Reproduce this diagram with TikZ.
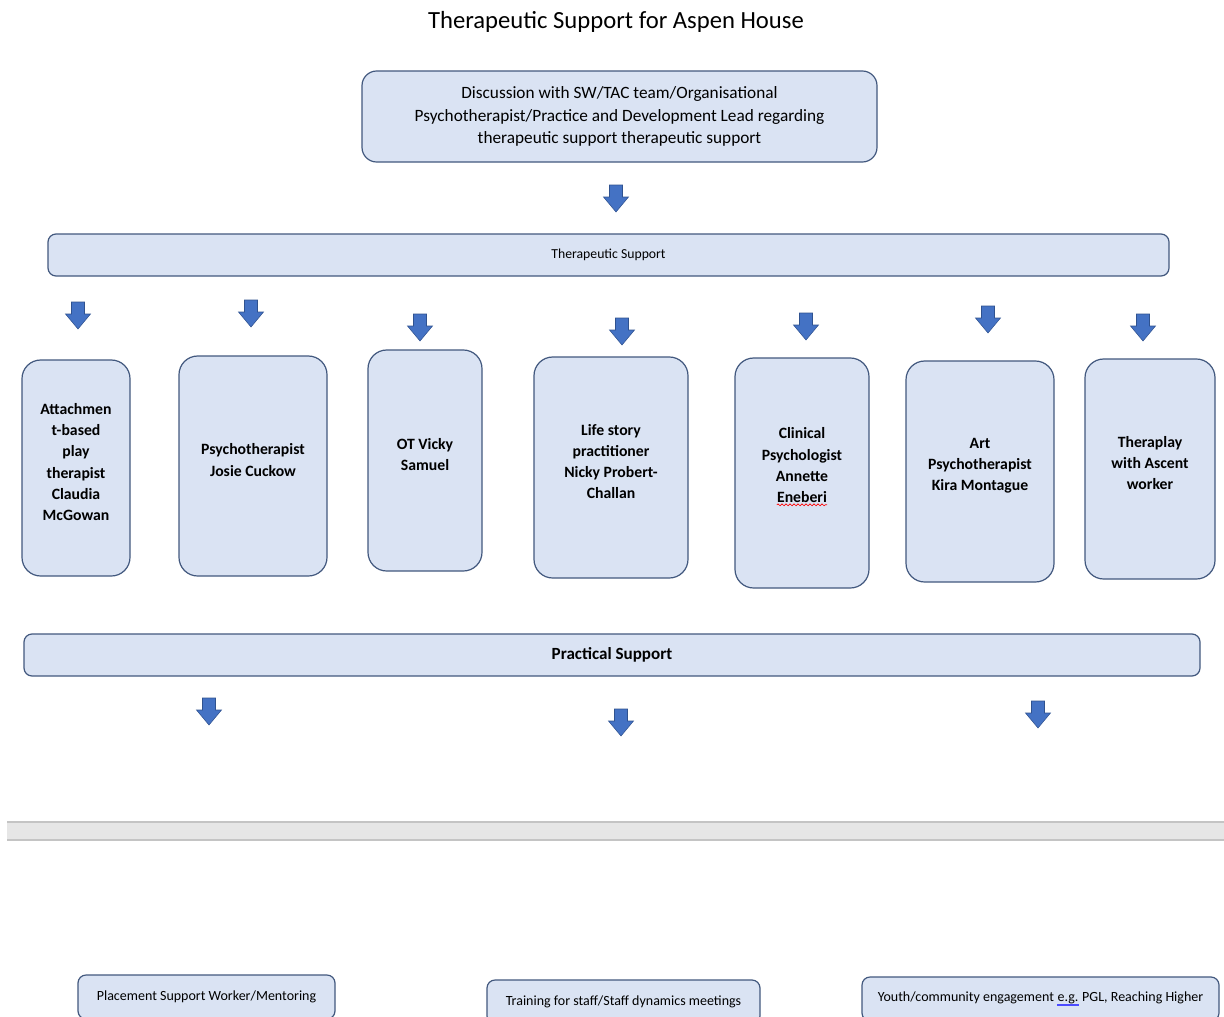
\documentclass[tikz,border=0pt]{standalone}
\usepackage{fontspec}
\setmainfont{Carlito}
\usetikzlibrary{decorations.pathmorphing}

\definecolor{boxfill}{HTML}{DAE3F3}
\definecolor{boxline}{HTML}{42587E}
\definecolor{arrowfill}{HTML}{4472C4}
\definecolor{arrowline}{HTML}{2F528F}
\definecolor{bandfill}{HTML}{E6E6E6}
\definecolor{bandline}{HTML}{C4C4C4}

% block arrow pointing down, top centre at #1
\newcommand{\downarrowat}[1]{%
  \filldraw[fill=arrowfill,draw=arrowline,line width=0.4pt] (#1) ++(-6.5,0) -- ++(13,0) -- ++(0,12) -- ++(6,0)
    -- ++(-12.5,15) -- ++(-12.5,-15) -- ++(6,0) -- cycle;}

% spell-check marks
\newcommand{\redsquig}[1]{\tikz[baseline=(w.base)]{\node[inner sep=0pt,draw=none,fill=none,minimum width=0pt,minimum height=0pt,anchor=base,font={}] (w) {#1};
  \draw[red,line width=0.5pt,sharp corners,decorate,decoration={snake,amplitude=0.7pt,segment length=3pt}] ([yshift=-2pt]w.base west) -- ([yshift=-2pt]w.base east);}}
\newcommand{\blueul}[1]{\tikz[baseline=(w.base)]{\node[inner sep=0pt,draw=none,fill=none,minimum width=0pt,minimum height=0pt,anchor=base,font={}] (w) {#1};
  \draw[blue!70,line width=0.4pt,sharp corners] ([yshift=-1.5pt]w.base west) -- ([yshift=-1.5pt]w.base east)
    ([yshift=-2.8pt]w.base west) -- ([yshift=-2.8pt]w.base east);}}

\begin{document}
\begin{tikzpicture}[x=0.75pt,y=-0.75pt,
  sz/.style 2 args={minimum width=#1*0.75pt,minimum height=#2*0.75pt},
  bar/.style={draw=boxline,fill=boxfill,line width=0.9pt,rounded corners=6pt,align=center,inner sep=2pt},
  box/.style={bar,rounded corners=14pt},
  boxtext/.style={align=center,inner sep=0pt,yshift=4.5pt,font=\bfseries\fontsize{11.8}{15.8}\selectfont}]
\useasboundingbox (0,0) rectangle (1224,1017);

% Title
\node[font=\fontsize{18.5}{22}\selectfont] (title) at (616,22) {Therapeutic Support for Aspen House};

% Discussion
\node[bar,sz={515}{91},rounded corners=11pt,font=\fontsize{12.95}{16.9}\selectfont] (disc) at (619.5,116.5)
  {Discussion with SW/TAC team/Organisational\\Psychotherapist/Practice and Development Lead regarding\\therapeutic support therapeutic support};
\coordinate (a0) at (616,185);
\downarrowat{a0}

% Therapeutic support
\node[bar,sz={1121}{42},font=\fontsize{10.3}{12}\selectfont] (ther) at (608.5,255) {Therapeutic Support};

\coordinate (a1) at (78,302);
\coordinate (a2) at (251,300);
\coordinate (a3) at (420,314);
\coordinate (a4) at (622,318);
\coordinate (a5) at (806,313);
\coordinate (a6) at (988,306);
\coordinate (a7) at (1143,314);
\foreach \a in {a1,a2,a3,a4,a5,a6,a7} {\downarrowat{\a}}

% Therapists
\node[box,sz={108}{216},label={[boxtext]center:{Attachmen\\t-based\\play\\therapist\\Claudia\\McGowan}}] (attach) at (76,468) {};
\node[box,sz={148}{220},label={[boxtext]center:{Psychotherapist\\Josie Cuckow}}] (psycho) at (253,466) {};
\node[box,sz={114}{221},label={[boxtext]center:{OT Vicky\\Samuel}}] (ot) at (425,460.5) {};
\node[box,sz={154}{221},label={[boxtext]center:{Life story\\practitioner\\Nicky Probert-\\Challan}}] (life) at (611,467.5) {};
\node[box,sz={134}{230},label={[boxtext]center:{Clinical\\Psychologist\\Annette\\\redsquig{Eneberi}}}] (clin) at (802,473) {};
\node[box,sz={148}{221},label={[boxtext]center:{Art\\Psychotherapist\\Kira Montague}}] (art) at (980,471.5) {};
\node[box,sz={130}{220},label={[boxtext]center:{Theraplay\\with Ascent\\worker}}] (thera) at (1150,469) {};

% Practical support
\node[bar,sz={1176}{42},font=\bfseries\fontsize{12.8}{14}\selectfont] (prac) at (612,655) {Practical Support};

\coordinate (b1) at (209,698);
\coordinate (b2) at (621,709);
\coordinate (b3) at (1038,701);
\foreach \b in {b1,b2,b3} {\downarrowat{\b}}

% page break band
\fill[bandfill] (7,822) rectangle (1224,840);
\draw[bandline,line width=0.8pt] (7,822) -- (1224,822) (7,840) -- (1224,840);

% Practical items
\node[bar,sz={257}{44},font=\fontsize{10.5}{12}\selectfont] (place) at (206.5,997) {Placement Support Worker/Mentoring};
\node[bar,sz={273}{44},font=\fontsize{10.5}{12}\selectfont] (train) at (623.5,1002) {Training for staff/Staff dynamics meetings};
\node[bar,sz={357}{44},font=\fontsize{10.5}{12}\selectfont] (youth) at (1040.5,999) {Youth/community engagement \blueul{e.g.} PGL, Reaching Higher};
\end{tikzpicture}
\end{document}
